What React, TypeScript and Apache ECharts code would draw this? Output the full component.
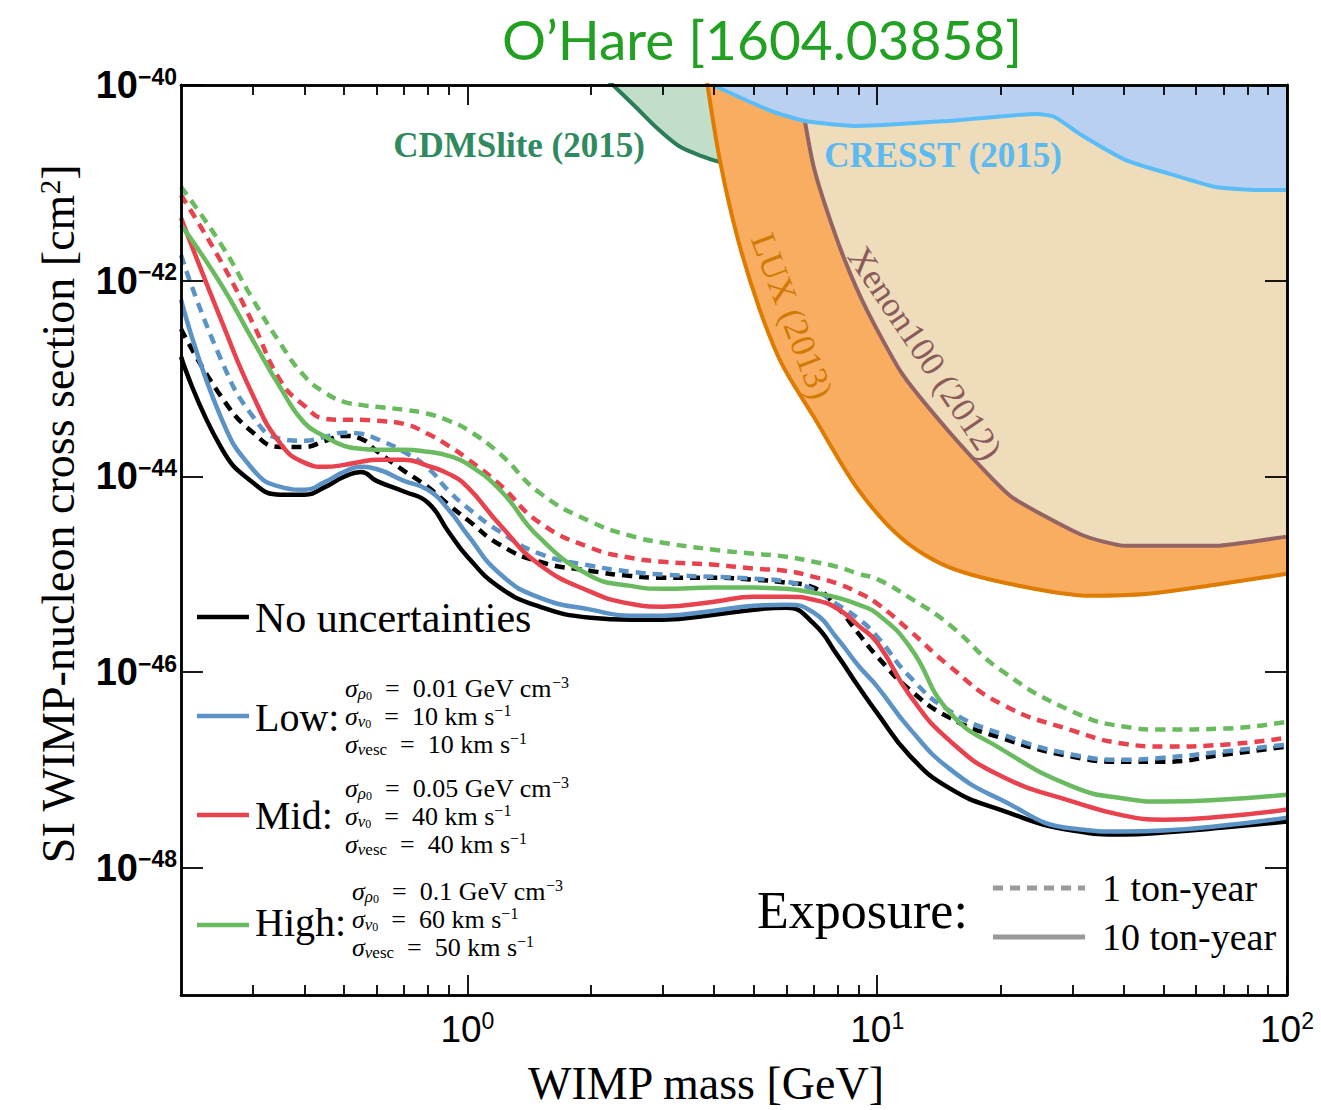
import React, { useEffect, useRef } from 'react';
import * as echarts from 'echarts';

// ---------------- data ----------------
const X_MIN = 0.2;
const X_MAX = 100;
const Y_MIN = 5e-50;
const Y_MAX = 1e-40;

const X_MAJOR_TICKS = [1, 10, 100];
const X_MINOR_TICKS = [0.3, 0.4, 0.5, 0.6, 0.7, 0.8, 0.9, 2, 3, 4, 5, 6, 7, 8, 9, 20, 30, 40, 50, 60, 70, 80, 90];
const Y_TICK_EXPONENTS = [-48, -46, -44, -42, -40];

// WIMP mass grid [GeV]
const MASS = [0.2, 0.25, 0.3, 0.35, 0.4, 0.45, 0.5, 0.55, 0.6, 0.7, 0.8, 0.9, 1, 1.2, 1.5, 2, 2.5, 3, 4, 5, 6, 7, 8, 9, 10, 12, 15, 20, 30, 40, 50, 70, 100];

// 10 ton-year (solid)
const NO_UNC_10 = [1.67e-43, 2.0e-44, 8.6e-45, 6.5e-45, 6.5e-45, 7.8e-45, 9.9e-45, 1.11e-44, 9.0e-45, 7.0e-45, 5.4e-45, 2.7e-45, 1.51e-45, 7.3e-46, 4.66e-46, 3.59e-46, 3.43e-46, 3.43e-46, 3.86e-46, 4.34e-46, 4.55e-46, 3.12e-46, 1.48e-46, 7.1e-47, 3.8e-47, 1.4e-47, 6.5e-48, 3.9e-48, 2.4e-48, 2.18e-48, 2.29e-48, 2.57e-48, 2.96e-48];
const LOW_10 = [6.4e-43, 4.06e-44, 1.17e-44, 7.8e-45, 7.3e-45, 8.8e-45, 1.11e-44, 1.25e-44, 1.19e-44, 9.0e-45, 7.3e-45, 4.56e-45, 2.53e-45, 1.01e-45, 5.75e-46, 4.34e-46, 3.77e-46, 3.77e-46, 4.24e-46, 4.76e-46, 4.88e-46, 4.04e-46, 2.19e-46, 1.16e-46, 7.1e-47, 2.64e-47, 1.03e-47, 4.97e-48, 2.51e-48, 2.34e-48, 2.4e-48, 2.7e-48, 3.25e-48];
const MID_10 = [4.38e-42, 4.07e-43, 6.65e-44, 2.15e-44, 1.38e-44, 1.25e-44, 1.31e-44, 1.41e-44, 1.48e-44, 1.48e-44, 1.28e-44, 1.06e-44, 7.8e-45, 3.2e-45, 1.25e-45, 6.6e-46, 4.99e-46, 4.66e-46, 5.24e-46, 5.89e-46, 5.89e-46, 5.48e-46, 4.44e-46, 2.98e-46, 2.0e-46, 5.8e-47, 2.0e-47, 8.7e-48, 4.74e-48, 3.41e-48, 3.1e-48, 3.33e-48, 3.93e-48];
const HIGH_10 = [3.72e-42, 9.3e-43, 2.43e-43, 8.0e-44, 3.52e-44, 2.54e-44, 2.05e-44, 1.91e-44, 1.87e-44, 1.87e-44, 1.78e-44, 1.62e-44, 1.34e-44, 7.3e-45, 2.36e-45, 9.6e-46, 7.6e-46, 7.1e-46, 7.3e-46, 7.3e-46, 7.1e-46, 6.47e-46, 5.75e-46, 4.88e-46, 3.94e-46, 1.82e-46, 3.9e-47, 1.65e-47, 6.75e-48, 5.09e-48, 4.74e-48, 4.97e-48, 5.58e-48];

// 1 ton-year (dashed)
const NO_UNC_1 = [3.2e-43, 6.65e-44, 2.79e-44, 2.0e-44, 2.0e-44, 2.31e-44, 2.59e-44, 2.42e-44, 1.82e-44, 1.14e-44, 7.8e-45, 5.13e-45, 3.6e-45, 2.0e-45, 1.34e-45, 1.08e-45, 9.6e-46, 9.2e-46, 9.2e-46, 8.8e-46, 8.2e-46, 7.3e-46, 4.54e-46, 2.47e-46, 1.44e-46, 6.6e-47, 3.42e-47, 2.13e-47, 1.36e-47, 1.21e-47, 1.21e-47, 1.43e-47, 1.73e-47];
const LOW_1 = [1.83e-42, 1.59e-43, 4.06e-44, 2.42e-44, 2.31e-44, 2.54e-44, 2.79e-44, 2.72e-44, 2.42e-44, 1.78e-44, 1.22e-44, 7.1e-45, 4.78e-45, 2.72e-45, 1.62e-45, 1.22e-45, 1.06e-45, 9.9e-46, 9.4e-46, 9.0e-46, 8.4e-46, 6.93e-46, 4.88e-46, 3.51e-46, 2.3e-46, 8.97e-47, 4.03e-47, 2.34e-47, 1.43e-47, 1.27e-47, 1.33e-47, 1.54e-47, 1.81e-47];
const MID_1 = [7.5e-42, 1.59e-42, 3.62e-43, 9.46e-44, 5.26e-44, 3.87e-44, 3.78e-44, 3.78e-44, 3.7e-44, 3.44e-44, 2.72e-44, 2.05e-44, 1.51e-44, 8.2e-45, 3.36e-45, 1.86e-45, 1.47e-45, 1.34e-45, 1.25e-45, 1.14e-45, 1.08e-45, 9.4e-46, 8.0e-46, 6.47e-46, 5.0e-46, 2.65e-46, 1.15e-46, 4.75e-47, 2.52e-47, 1.85e-47, 1.73e-47, 1.81e-47, 2.13e-47];
const HIGH_1 = [9.1e-42, 2.38e-42, 6.37e-43, 2.26e-43, 1.06e-43, 7.14e-44, 5.78e-44, 5.38e-44, 5.14e-44, 4.79e-44, 4.36e-44, 3.7e-44, 2.99e-44, 1.7e-44, 6.8e-45, 3.44e-45, 2.47e-45, 2.1e-45, 1.78e-45, 1.62e-45, 1.51e-45, 1.34e-45, 1.19e-45, 1.01e-45, 8.9e-46, 5.75e-46, 3.05e-46, 1.05e-46, 3.94e-47, 2.77e-47, 2.58e-47, 2.64e-47, 3.11e-47];

// Existing exclusion limits
const CDMS_MASS = [2.2, 2.56, 2.9, 3.28, 3.73, 4.13, 4.75];
const CDMS_SIGMA = [1.12e-40, 6.1e-41, 3.64e-41, 2.38e-41, 1.88e-41, 1.63e-41, 1.42e-41];
const LUX_MASS = [3.84, 4.13, 4.57, 5.17, 5.85, 7.0, 8.96, 11.5, 14.9, 21.6, 33.2, 45.9, 66.9, 100];
const LUX_SIGMA = [1.1e-40, 1.71e-41, 2.67e-42, 5.04e-43, 1.41e-43, 4.06e-44, 7.46e-45, 2.3e-45, 1.19e-45, 7.8e-46, 6.02e-46, 6.31e-46, 7.8e-46, 1.01e-45];
const XENON_MASS = [6.47, 6.66, 7.0, 7.53, 8.33, 9.43, 11.5, 14.9, 19.0, 21.6, 31.5, 40.4, 66.9, 82.0, 100];
const XENON_SIGMA = [1e-40, 4.29e-41, 1.45e-41, 5.28e-42, 1.63e-42, 5.04e-43, 1.12e-43, 2.92e-44, 9.66e-45, 5.9e-45, 2.53e-45, 1.95e-45, 1.95e-45, 2.15e-45, 2.42e-45];
const CRESST_MASS = [3.97, 5.44, 6.66, 8.96, 14.9, 24.5, 27.1, 31.5, 40.4, 52.0, 66.9, 85.7, 100];
const CRESST_SIGMA = [1e-40, 5.55e-41, 4.29e-41, 3.81e-41, 4.29e-41, 5.06e-41, 4.71e-41, 3.08e-41, 1.71e-41, 1.23e-41, 9.08e-42, 8.45e-42, 8.45e-42];

// Legend texts
const LOW_PARAMS = ['0.01', '10', '10'];
const MID_PARAMS = ['0.05', '40', '40'];
const HIGH_PARAMS = ['0.1', '60', '50'];

// ---------------- styles ----------------
const SERIF = '"Liberation Serif", "Times New Roman", serif';
const SANS = '"Liberation Sans", Arial, sans-serif';
const C_NONE = '#000000';
const C_LOW = '#5b93c6';
const C_MID = '#e8424e';
const C_HIGH = '#6abb5f';
const DASH = [10, 7];

function supLabel(e: number) {
  return `{b|10}{s|${e < 0 ? '\u2212' + Math.abs(e) : e}}`;
}

const AXIS_LINE = { show: true, onZero: false, lineStyle: { color: '#000', width: 2.5 } };

function xAxisDef(position: string, ticks: number[], len: number, withLabels: boolean) {
  const ax: any = {
    type: 'log', logBase: 10, min: X_MIN, max: X_MAX, position, z: 10,
    axisLine: AXIS_LINE,
    axisTick: { show: true, inside: true, length: len, customValues: ticks, lineStyle: { color: '#000', width: 1.8 } },
    splitLine: { show: false },
    axisLabel: { show: false },
  };
  if (withLabels) {
    ax.axisLabel = {
      show: true, customValues: ticks, formatter: (v: number) => supLabel(Math.round(Math.log10(v))), margin: 14, color: '#000',
      rich: {
        b: { fontFamily: '"Liberation Sans Narrow", ' + SANS, fontSize: 37, lineHeight: 40, color: '#000' },
        s: { fontFamily: '"Liberation Sans Narrow", ' + SANS, fontSize: 23, lineHeight: 22, verticalAlign: 'top', color: '#000' },
      },
    };
  }
  return ax;
}

// data axis (log) — carries all series
function yLogAxis(position: string) {
  return {
    type: 'log', logBase: 10, min: Y_MIN, max: Y_MAX, position, z: 10,
    axisLine: AXIS_LINE, axisTick: { show: false }, axisLabel: { show: false }, splitLine: { show: false },
  };
}

// tick/label axis in decades, spanning exactly the same range as the log axis
function yDecadeAxis(position: string, withLabels: boolean) {
  const ax: any = {
    type: 'value', min: Math.log10(Y_MIN), max: Math.log10(Y_MAX), position, z: 10,
    axisLine: AXIS_LINE,
    axisTick: { show: true, inside: true, length: 22, customValues: Y_TICK_EXPONENTS, lineStyle: { color: '#000', width: 1.8 } },
    splitLine: { show: false },
    axisLabel: { show: false },
  };
  if (withLabels) {
    ax.axisLabel = {
      show: true, customValues: Y_TICK_EXPONENTS, formatter: (v: number) => supLabel(Math.round(v)), margin: 4, color: '#000',
      rich: {
        b: { fontFamily: SANS, fontWeight: 'bold', fontSize: 38, lineHeight: 40, color: '#000' },
        s: { fontFamily: SANS, fontWeight: 'bold', fontSize: 23, lineHeight: 22, verticalAlign: 'top', color: '#000' },
      },
    };
  }
  return ax;
}

function curve(name: string, values: number[], color: string, dashed: boolean) {
  return {
    type: 'line', name, data: MASS.map((m, i) => [m, values[i]]),
    xAxisIndex: 0, yAxisIndex: 0,
    showSymbol: false, symbol: 'none', smooth: 0.5, z: 6, silent: true,
    lineStyle: { color, width: 4.5, type: dashed ? DASH : 'solid', cap: 'butt' },
  };
}

function region(name: string, xs: number[], ys: number[], fill: string, stroke: string, smooth: number, z: number) {
  return {
    type: 'line', name, data: xs.map((m, i) => [m, ys[i]]),
    xAxisIndex: 0, yAxisIndex: 0,
    showSymbol: false, symbol: 'none', smooth, z, silent: true,
    lineStyle: { color: stroke, width: 4 },
    areaStyle: { color: fill, opacity: 1, origin: Y_MAX },
  };
}

const PARAM_RICH = {
  g: { fontFamily: SERIF, fontSize: 26, fontStyle: 'italic', lineHeight: 28, fill: '#000' },
  t: { fontFamily: SERIF, fontSize: 26, lineHeight: 28, fill: '#000' },
  s1: { fontFamily: SERIF, fontSize: 17, fontStyle: 'italic', lineHeight: 14, verticalAlign: 'bottom', fill: '#000' },
  s2: { fontFamily: SERIF, fontSize: 12, lineHeight: 8, verticalAlign: 'bottom', fill: '#000' },
  s3: { fontFamily: SERIF, fontSize: 17, lineHeight: 13, verticalAlign: 'bottom', fill: '#000' },
  sp: { fontFamily: SERIF, fontSize: 16, lineHeight: 14, verticalAlign: 'top', fill: '#000' },
};

// one multi-line text block per uncertainty level
function paramBlock(params: string[], x: number, yCenter: number) {
  const eq = '\u2002=\u2002';
  const text = [
    `{g|\u03c3}{s1|\u03c1}{s2|0}{t|${eq}${params[0]} GeV cm}{sp|\u22123}`,
    `{g|\u03c3}{s1|v}{s2|0}{t|${eq}${params[1]} km s}{sp|\u22121}`,
    `{g|\u03c3}{s1|v}{s3|esc}{t|${eq}${params[2]} km s}{sp|\u22121}`,
  ].join('\n');
  return {
    type: 'text', x, y: yCenter, z: 100, silent: true,
    style: { text, rich: PARAM_RICH, verticalAlign: 'middle', align: 'left', fill: '#000' },
  };
}

function legendLine(y: number, color: string) {
  return { type: 'line', z: 100, silent: true, shape: { x1: 197, y1: y, x2: 249, y2: y }, style: { stroke: color, lineWidth: 4.5 } };
}

function bigText(text: string, x: number, y: number, size: number) {
  return { type: 'text', x, y, z: 100, silent: true, style: { text, fontFamily: SERIF, fontSize: size, fill: '#000', verticalAlign: 'middle', align: 'left' } };
}

function buildOption() {
  const graphics: any[] = [
    // axis names
    { type: 'text', x: 706, y: 1083, z: 100, silent: true, style: { text: 'WIMP mass [GeV]', fontFamily: SERIF, fontSize: 46, fill: '#000', align: 'center', verticalAlign: 'middle' } },
    {
      type: 'text', x: 58, y: 514, z: 100, rotation: Math.PI / 2, silent: true,
      style: {
        text: 'SI WIMP-nucleon cross section [cm{sup|2}]', fontFamily: SERIF, fontSize: 46, fill: '#000', align: 'center', verticalAlign: 'middle',
        rich: { sup: { fontFamily: SERIF, fontSize: 29, lineHeight: 26, verticalAlign: 'top', fill: '#000' } },
      },
    },
    // region labels
    { type: 'text', x: 519, y: 145, z: 50, silent: true, style: { text: 'CDMSlite (2015)', fontFamily: SERIF, fontWeight: 'bold', fontSize: 35, fill: '#2f8a60', align: 'center', verticalAlign: 'middle' } },
    { type: 'text', x: 943, y: 155, z: 50, silent: true, style: { text: 'CRESST (2015)', fontFamily: SERIF, fontWeight: 'bold', fontSize: 35, fill: '#5cbaf2', align: 'center', verticalAlign: 'middle' } },
    { type: 'text', x: 792, y: 316, z: 50, rotation: -69.3 * Math.PI / 180, silent: true, style: { text: 'LUX (2013)', fontFamily: SERIF, fontSize: 35, fill: '#d27a06', align: 'center', verticalAlign: 'middle' } },
    { type: 'text', x: 925, y: 353, z: 50, rotation: -56.2 * Math.PI / 180, silent: true, style: { text: 'Xenon100 (2012)', fontFamily: SERIF, fontSize: 35, fill: '#8b5a5a', align: 'center', verticalAlign: 'middle' } },
    // uncertainty legend
    legendLine(617, C_NONE),
    bigText('No uncertainties', 255, 618, 42),
    legendLine(716, C_LOW),
    bigText('Low:', 255, 717, 40),
    paramBlock(LOW_PARAMS, 345, 716),
    legendLine(815, C_MID),
    bigText('Mid:', 255, 815, 40),
    paramBlock(MID_PARAMS, 345, 816),
    legendLine(925, C_HIGH),
    bigText('High:', 255, 922, 40),
    paramBlock(HIGH_PARAMS, 352, 919),
    // exposure legend
    bigText('Exposure:', 757, 910, 52),
    { type: 'line', z: 100, silent: true, shape: { x1: 993, y1: 888, x2: 1085, y2: 888 }, style: { stroke: '#9a9a9a', lineWidth: 5, lineDash: DASH } },
    { type: 'line', z: 100, silent: true, shape: { x1: 993, y1: 937, x2: 1085, y2: 937 }, style: { stroke: '#9a9a9a', lineWidth: 5 } },
    bigText('1 ton-year', 1102, 888, 38),
    bigText('10 ton-year', 1102, 937, 38),
  ];

  return {
    animation: false,
    backgroundColor: '#ffffff',
    title: {
      text: 'O\u2019Hare [1604.03858]', left: 497, top: 6,
      textStyle: { fontFamily: 'Lato, "Noto Sans", sans-serif', fontWeight: 'normal', fontSize: 55, color: '#22a022' },
    },
    grid: { left: 181, right: 34, top: 85, bottom: 115, containLabel: false, outerBoundsMode: 'none' },
    xAxis: [
      xAxisDef('bottom', X_MAJOR_TICKS, 20, true),
      xAxisDef('bottom', X_MINOR_TICKS, 10, false),
      xAxisDef('top', X_MAJOR_TICKS, 20, false),
      xAxisDef('top', X_MINOR_TICKS, 10, false),
    ],
    yAxis: [yLogAxis('left'), yLogAxis('right'), yDecadeAxis('left', true), yDecadeAxis('right', false)],
    series: [
      region('CDMSlite (2015)', CDMS_MASS, CDMS_SIGMA, '#c1dec8', '#2b7c57', 0.3, 1),
      region('LUX (2013)', LUX_MASS, LUX_SIGMA, '#f9ad60', '#de7b00', 0.3, 2),
      region('Xenon100 (2012)', XENON_MASS, XENON_SIGMA, '#eedcbb', '#946464', 0.2, 3),
      region('CRESST (2015)', CRESST_MASS, CRESST_SIGMA, '#b9d0f1', '#5bbdf8', 0.2, 4),
      curve('No uncertainties, 1 ton-year', NO_UNC_1, C_NONE, true),
      curve('Low, 1 ton-year', LOW_1, C_LOW, true),
      curve('Mid, 1 ton-year', MID_1, C_MID, true),
      curve('High, 1 ton-year', HIGH_1, C_HIGH, true),
      curve('No uncertainties, 10 ton-year', NO_UNC_10, C_NONE, false),
      curve('Low, 10 ton-year', LOW_10, C_LOW, false),
      curve('Mid, 10 ton-year', MID_10, C_MID, false),
      curve('High, 10 ton-year', HIGH_10, C_HIGH, false),
    ],
    graphic: graphics,
  };
}

export default function App() {
  const ref = useRef<HTMLDivElement>(null);
  useEffect(() => {
    if (!ref.current) return;
    const chart = echarts.init(ref.current, null, { renderer: 'svg' });
    chart.setOption(buildOption() as any);
    return () => chart.dispose();
  }, []);
  return <div ref={ref} style={{ position: 'fixed', left: 0, top: 0, width: 1321, height: 1110, background: '#fff' }} />;
}
